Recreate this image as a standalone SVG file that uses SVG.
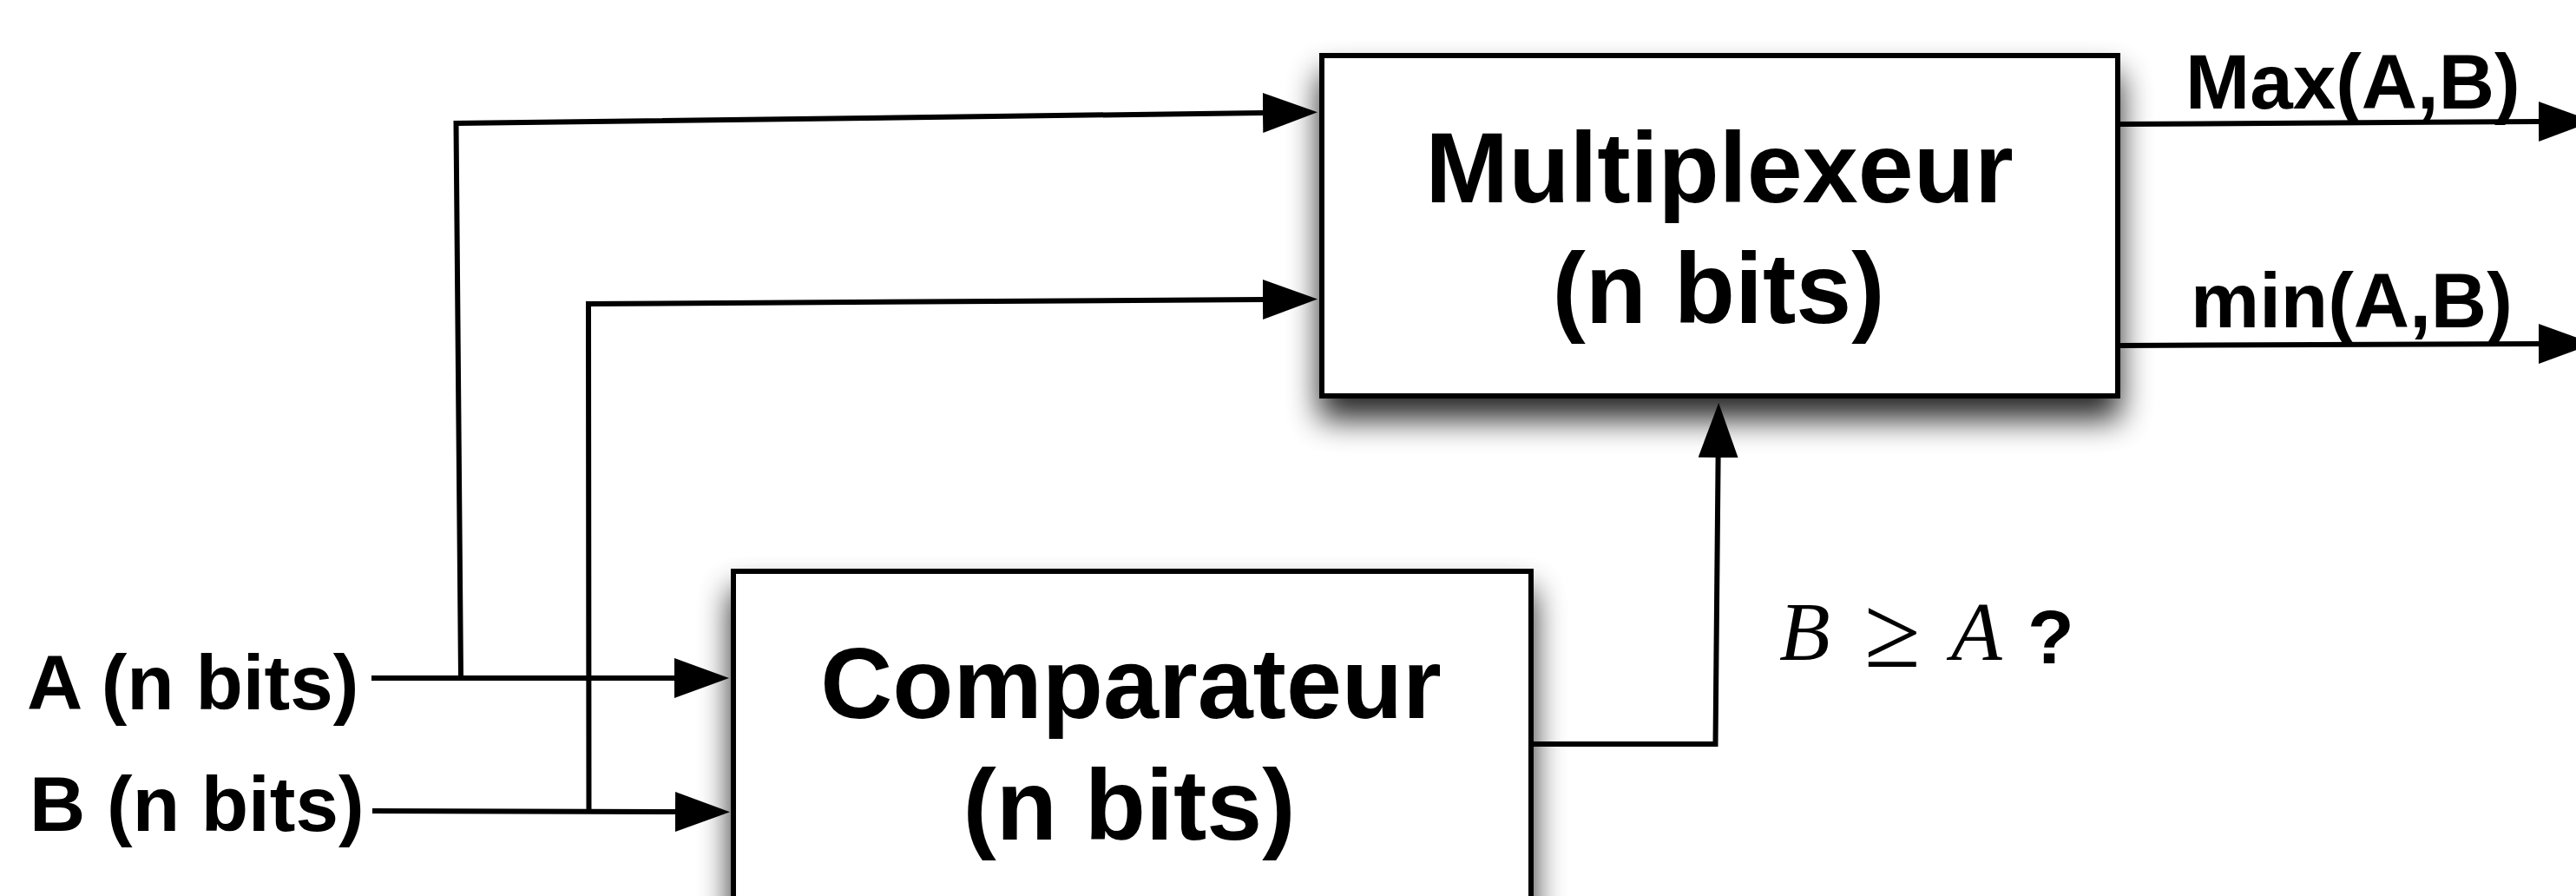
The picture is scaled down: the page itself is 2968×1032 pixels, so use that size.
<svg xmlns="http://www.w3.org/2000/svg" width="2968" height="1032" viewBox="0 0 2968 1032">
<style>
.box{fill:#fff;stroke:#000;stroke-width:6;filter:url(#shadow)}
.lbl{font-family:"Liberation Sans",Arial,Helvetica,sans-serif;font-weight:bold;fill:#000}
.big{font-size:115px;text-anchor:middle}
.io{font-size:89px}
.math{font-family:"Liberation Serif","Times New Roman",serif;font-style:italic;font-size:96px;fill:#000}
.wire{fill:none;stroke:#000;stroke-width:6;stroke-linejoin:miter}
.arr{marker-end:url(#ah)}
</style>
<defs>
<filter id="shadow" x="-15%" y="-25%" width="130%" height="160%">
<feGaussianBlur in="SourceAlpha" stdDeviation="18"/>
<feOffset dx="0" dy="24" result="b"/>
<feComponentTransfer><feFuncA type="linear" slope="0.85"/></feComponentTransfer>
<feMerge><feMergeNode/><feMergeNode in="SourceGraphic"/></feMerge>
</filter>
<marker id="ah" markerUnits="userSpaceOnUse" markerWidth="64" markerHeight="47" refX="0" refY="23" orient="auto">
<path d="M0,0 L63,23 L0,46 Z" fill="#000"/>
</marker>
</defs>
<rect width="2968" height="1032" fill="#fff"/>
<g id="mux">
<rect class="box" x="1523" y="64" width="917" height="392"/>
<text class="lbl big" x="1981" y="233">Multiplexeur</text>
<text class="lbl big" x="1980" y="372">(n bits)</text>
</g>
<g id="comparateur">
<rect class="box" x="845" y="658" width="919" height="392"/>
<text class="lbl big" x="1303" y="827">Comparateur</text>
<text class="lbl big" x="1301" y="967">(n bits)</text>
</g>
<g id="inA"><text class="lbl io" x="31" y="817">A (n bits)</text></g>
<g id="inB"><text class="lbl io" x="34" y="957">B (n bits)</text></g>
<g id="outMax"><text class="lbl io" x="2518" y="125">Max(A,B)</text></g>
<g id="outMin"><text class="lbl io" x="2524" y="377">min(A,B)</text></g>
<g id="cond">
<text class="math"><tspan x="2050" y="760">B</tspan><tspan x="2148" y="768" font-style="normal" font-size="118">≥</tspan><tspan x="2248" y="760">A</tspan></text>
<text class="lbl" x="2336" y="764" font-size="88">?</text>
</g>
<g id="connectors">
<path class="wire arr" d="M428,781 L777,781"/>
<path class="wire arr" d="M429,934 L778,935"/>
<path class="wire arr" d="M531,781 L525.5,142 L1455,130"/>
<path class="wire arr" d="M678.5,934 L678,350 L1455,345"/>
<path class="wire arr" d="M1767,857 L1976.5,857 L1979.6,527"/>
<path class="wire arr" d="M2443,143 L2925,140"/>
<path class="wire arr" d="M2443,398 L2925,396"/>
</g>
</svg>
